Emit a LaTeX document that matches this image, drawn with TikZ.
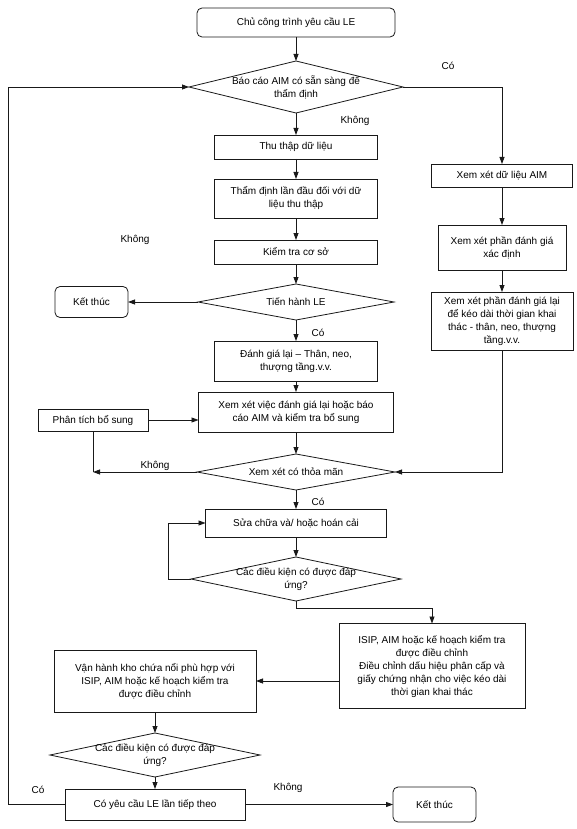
\documentclass[tikz,border=0pt]{standalone}
\usepackage{fontspec}
\setmainfont{Liberation Sans}
\usetikzlibrary{arrows.meta,positioning,shapes.geometric}
\definecolor{flowline}{RGB}{25,25,25}
\tikzset{
  blk/.style={draw=flowline,line width=0.8pt,minimum width=163pt,
              minimum height=24pt,inner sep=2pt,outer sep=0pt,align=center,
              font=\fontsize{10}{13}\selectfont},
  term/.style={blk,rounded corners=5pt},
  dec/.style={diamond,draw=flowline,line width=0.8pt,shape aspect=4,
              inner xsep=-20pt,inner ysep=-2pt,outer sep=0pt,align=center,
              font=\fontsize{10}{13}\selectfont},
  arr/.style={-{Triangle[length=7pt,width=5pt]},line width=0.8pt,color=flowline},
  ln/.style={line width=0.8pt,color=flowline},
  lbl/.style={font=\fontsize{10}{12}\selectfont,inner sep=0pt},
}
\begin{document}
\begin{tikzpicture}[x=1pt,y=-1pt]
  \useasboundingbox (0,0) rectangle (576,829);
  % main column
  \node[term,minimum width=198pt,minimum height=29pt] (start) at (296,22.5) {Chủ công trình yêu cầu LE};
  \node[dec,minimum width=214pt,minimum height=52pt,below=24pt of start] (aimready) {Báo cáo AIM có sẵn sàng để\\thẩm định};
  \node[blk,below=22pt of aimready] (collect) {Thu thập dữ liệu};
  \node[blk,minimum height=39pt,below=20pt of collect] (firstcheck) {Thẩm định lần đầu đối với dữ\\liệu thu thập};
  \node[blk,below=22pt of firstcheck] (basecheck) {Kiểm tra cơ sở};
  \node[dec,minimum width=196pt,minimum height=36pt,below=20pt of basecheck] (proceed) {Tiến hành LE};
  \node[term,minimum width=73pt,minimum height=31pt,left=70pt of proceed] (endA) {Kết thúc};
  \node[blk,minimum height=40pt,below=21pt of proceed] (reassess) {Đánh giá lại – Thân, neo,\\thượng tầng.v.v.};
  \node[blk,minimum width=195pt,minimum height=40pt,below=11pt of reassess] (review) {Xem xét việc đánh giá lại hoặc báo\\cáo AIM và kiểm tra bổ sung};
  \node[blk,minimum width=110pt,minimum height=22pt] (extra) at (93,420) {Phân tích bổ sung};
  \node[dec,minimum width=198pt,minimum height=36pt,below=22pt of review] (satisfied) {Xem xét có thỏa mãn};
  \node[blk,minimum width=181pt,minimum height=28pt,below=19pt of satisfied] (repair) {Sửa chữa và/ hoặc hoán cải};
  \node[dec,minimum width=210pt,minimum height=44pt,below=20pt of repair] (condA) {Các điều kiện có được đáp\\ứng?};
  % right column
  \node[blk,minimum width=141pt,minimum height=23pt] (aimdata) at (502,175.5) {Xem xét dữ liệu AIM};
  \node[blk,minimum width=128pt,minimum height=45pt,below=38pt of aimdata] (defassess) {Xem xét phần đánh giá\\xác định};
  \node[blk,minimum width=142pt,minimum height=58pt,below=22pt of defassess] (lifeext) {Xem xét phần đánh giá lại\\để kéo dài thời gian khai\\thác - thân, neo, thượng\\tầng.v.v.};
  % lower part
  \node[blk,minimum width=186pt,minimum height=85pt] (plans) at (432,666) {ISIP, AIM hoặc kế hoạch kiểm tra\\được điều chỉnh\\Điều chỉnh dấu hiệu phân cấp và\\giấy chứng nhận cho việc kéo dài\\thời gian khai thác};
  \node[blk,minimum width=202pt,minimum height=62pt] (operate) at (155,681) {Vận hành kho chứa nổi phù hợp với\\ISIP, AIM hoặc kế hoạch kiểm tra\\được điều chỉnh};
  \node[dec,minimum width=210pt,minimum height=44pt,below=21pt of operate] (condB) {Các điều kiện có được đáp\\ứng?};
  \node[blk,minimum width=180pt,minimum height=31pt,below=12pt of condB] (nextle) {Có yêu cầu LE lần tiếp theo};
  \node[term,minimum width=83pt,minimum height=35pt,right=148pt of nextle] (endB) {Kết thúc};

  % labels
  \node[lbl] (yesA) at (448,66) {Có};
  \node[lbl] (noA) at (355,121) {Không};
  \node[lbl] (noB) at (135,240) {Không};
  \node[lbl] (yesB) at (318,333) {Có};
  \node[lbl] (noC) at (155,466) {Không};
  \node[lbl] (yesC) at (318,502) {Có};
  \node[lbl] (yesD) at (38,790) {Có};
  \node[lbl] (noD) at (288,788) {Không};

  \draw[arr] (start) -- (aimready);
  \draw[arr] (aimready) -- (collect);
  \draw[arr] (aimready.east) -| (aimdata.north);
  \draw[arr] (collect) -- (firstcheck);
  \draw[arr] (firstcheck) -- (basecheck);
  \draw[arr] (basecheck) -- (proceed);
  \draw[arr] (proceed) -- (endA);
  \draw[arr] (proceed) -- (reassess);
  \draw[arr] (reassess) -- (review);
  \draw[arr] (extra.east) -- (extra.east -| review.west);
  \draw[arr] (review) -- (satisfied);
  \draw[arr] (aimdata) -- (defassess);
  \draw[arr] (defassess) -- (lifeext);
  \draw[arr] (lifeext.south) |- (satisfied.east);
  \coordinate (fail) at (extra.south |- satisfied.west);
  \draw[arr] (satisfied.west) -- (fail);
  \draw[ln] (extra.south) -- (fail);
  \draw[arr] (satisfied) -- (repair);
  \draw[arr] (repair) -- (condA);
  \draw[arr] (condA.west) -- ++(-23pt,0) |- (repair.west);
  \draw[arr] (condA.south) -- ++(0,7) -| (plans.north);
  \draw[arr] (operate.east -| plans.west) -- (operate.east);
  \draw[arr] (operate) -- (condB);
  \draw[arr] (condB) -- (nextle);
  \draw[arr] (nextle.west) -- ++(-57pt,0) |- (aimready.west);
  \draw[arr] (nextle) -- (endB);
\end{tikzpicture}
\end{document}
